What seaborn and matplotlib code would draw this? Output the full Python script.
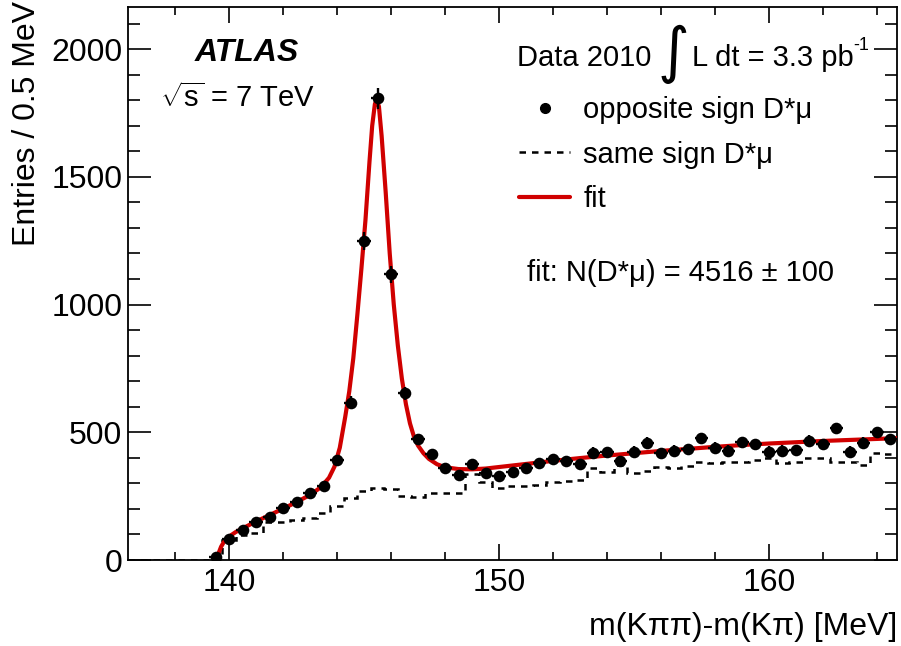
import numpy as np
import pandas as pd
import matplotlib
matplotlib.use("Agg")
import matplotlib.pyplot as plt
import seaborn as sns
from matplotlib.lines import Line2D

# ---------------- data ----------------
os_x = [139.5, 140.0, 140.5, 141.0, 141.5, 142.0, 142.5, 143.0, 143.5, 144.0,
        144.5, 145.0, 145.5, 146.0, 146.5, 147.0, 147.5, 148.0, 148.5, 149.0,
        149.5, 150.0, 150.5, 151.0, 151.5, 152.0, 152.5, 153.0, 153.5, 154.0,
        154.5, 155.0, 155.5, 156.0, 156.5, 157.0, 157.5, 158.0, 158.5, 159.0,
        159.5, 160.0, 160.5, 161.0, 161.5, 162.0, 162.5, 163.0, 163.5, 164.0,
        164.5]
os_y = [13, 81, 117, 147, 167, 203, 226, 263, 291, 391,
        616, 1250, 1807, 1119, 652, 472, 415, 359, 334, 374,
        340, 330, 346, 359, 378, 394, 389, 376, 420, 421,
        389, 424, 459, 417, 428, 434, 476, 440, 428, 461,
        454, 424, 428, 431, 466, 453, 515, 424, 459, 500,
        472]

ss_x = [136.5, 137.0, 137.5, 138.0, 138.5, 139.0, 139.5, 140.0, 140.5, 141.0,
        141.5, 142.0, 142.5, 143.0, 143.5, 144.0, 144.5, 145.0, 145.5, 146.0,
        146.5, 147.0, 147.5, 148.0, 148.5, 149.0, 149.5, 150.0, 150.5, 151.0,
        151.5, 152.0, 152.5, 153.0, 153.5, 154.0, 154.5, 155.0, 155.5, 156.0,
        156.5, 157.0, 157.5, 158.0, 158.5, 159.0, 159.5, 160.0, 160.5, 161.0,
        161.5, 162.0, 162.5, 163.0, 163.5, 164.0, 164.5]
ss_y = [0, 0, 0, 0, 0, 0, 8, 78, 98, 104,
        150, 150, 157, 163, 183, 211, 241, 271, 283, 278,
        250, 245, 261, 261, 261, 335, 307, 281, 290, 290,
        294, 307, 311, 313, 361, 346, 372, 342, 350, 365,
        361, 368, 385, 378, 382, 385, 391, 398, 378, 385,
        400, 400, 385, 385, 372, 418, 414]

fit_x = [139.57, 139.62, 139.7, 139.8, 140.0, 140.25, 140.5, 141.0, 141.5, 142.0,
         142.5, 143.0, 143.4, 143.7, 143.9, 144.1, 144.3, 144.45, 144.6, 144.75,
         144.9, 145.05, 145.2, 145.3, 145.4, 145.47, 145.55, 145.65, 145.8, 145.95,
         146.1, 146.25, 146.4, 146.55, 146.7, 146.85, 147.0, 147.2, 147.4, 147.7,
         148.0, 148.5, 149.0, 149.5, 150.0, 151.0, 152.0, 153.0, 154.0, 155.0,
         156.0, 157.0, 158.0, 159.0, 160.0, 161.0, 162.0, 163.0, 164.0, 164.75]
fit_y = [0, 30, 52, 70, 92, 110, 124, 151, 176, 201,
         227, 255, 285, 322, 365, 440, 560, 660, 790, 960,
         1140, 1330, 1560, 1700, 1785, 1805, 1775, 1660, 1440, 1200,
         1000, 840, 710, 610, 535, 482, 448, 418, 396, 375,
         363, 356, 355, 358, 364, 376, 388, 399, 409, 418,
         427, 435, 443, 450, 456, 461, 466, 470, 474, 477]

bin_width = 0.5
x_ticks = [140, 150, 160]
y_ticks = [0, 500, 1000, 1500, 2000]

# ---------------- style ----------------
sns.set_theme(style="ticks")
plt.rcParams["font.family"] = ["Liberation Sans", "DejaVu Sans"]
plt.rcParams["mathtext.fontset"] = "custom"
plt.rcParams["mathtext.rm"] = "Liberation Sans"
plt.rcParams["axes.linewidth"] = 1.3
plt.rcParams["text.color"] = "black"
plt.rcParams["axes.labelcolor"] = "black"
plt.rcParams["xtick.color"] = "black"
plt.rcParams["ytick.color"] = "black"

FS = 21
FS_AX = 23
RED = "#d00000"
DASH = (0, (2.6, 2.4))

fig = plt.figure(figsize=(9.01, 6.46), dpi=100)
W, H = 901, 646
ax = fig.add_axes([128 / W, 1 - 560 / H, 769 / W, 553 / H])

df_os = pd.DataFrame({"x": os_x, "y": os_y})
df_ss = pd.DataFrame({"x": ss_x, "y": ss_y})
df_fit = pd.DataFrame({"x": fit_x, "y": fit_y})

edges = np.concatenate([np.array(ss_x) - bin_width / 2, [ss_x[-1] + bin_width / 2]])

# same-sign histogram (dashed)
ax.stairs(df_ss["y"].to_numpy(), edges, color="black", linewidth=1.8,
          linestyle=DASH, baseline=None, zorder=2)

# fit
sns.lineplot(data=df_fit, x="x", y="y", color=RED, linewidth=3.0, ax=ax,
             sort=False, estimator=None, zorder=3)

# opposite sign data with error bars
ax.errorbar(df_os["x"], df_os["y"], yerr=np.sqrt(df_os["y"]), xerr=bin_width / 2,
            fmt="none", ecolor="black", elinewidth=1.7, capsize=0, zorder=4)
sns.scatterplot(data=df_os, x="x", y="y", color="black", s=70, edgecolor="black",
                linewidth=0, ax=ax, zorder=5)

ax.set_xlim(136.25, 164.75)
ax.set_ylim(0, 2165)
ax.set_xticks(x_ticks)
ax.set_yticks(y_ticks)
ax.set_xticks(np.arange(138, 165, 2), minor=True)
ax.set_yticks(np.arange(0, 2165, 100), minor=True)
ax.tick_params(axis="both", which="both", direction="in", top=True, right=True,
               labelsize=FS_AX, width=1.2, colors="black")
ax.tick_params(axis="x", which="major", length=11.5, pad=6)
ax.tick_params(axis="x", which="minor", length=6)
ax.tick_params(axis="y", which="major", length=16.5, pad=4)
ax.tick_params(axis="y", which="minor", length=8.3)
for s in ax.spines.values():
    s.set_color("black")

ax.set_xlabel("m(Kππ)-m(Kπ) [MeV]", fontsize=FS_AX, loc="right")
ax.xaxis.set_label_coords(1.0, -0.094)
ax.set_ylabel("Entries / 0.5 MeV", fontsize=FS_AX, loc="top")
ax.yaxis.set_label_coords(-0.112, 1.010)

# ATLAS label
ax.text(195 / W, 1 - 53 / H, "ATLAS", transform=fig.transFigure, fontsize=23,
        fontweight="bold", fontstyle="italic", ha="left", va="center")
ax.text(160 / W, 1 - 98 / H, r"$\sqrt{\mathrm{s}}$ = 7 TeV", transform=fig.transFigure,
        fontsize=FS, ha="left", va="center")

# Data / luminosity
fig.text(517 / W, 1 - 58 / H, "Data 2010", fontsize=FS, ha="left", va="center")
fig.text(673 / W, 1 - 54 / H, "∫", fontsize=44, ha="center", va="center",
         family="DejaVu Sans")
fig.text(692 / W, 1 - 58 / H, "L dt = 3.3 pb", fontsize=FS, ha="left", va="center")
fig.text(853 / W, 1 - 46 / H, "-1", fontsize=13, ha="left", va="center")

# legend
handles = [
    Line2D([], [], color="black", marker="o", linestyle="none", markersize=7),
    Line2D([], [], color="black", linestyle=DASH, linewidth=1.8),
    Line2D([], [], color=RED, linewidth=3.0),
]
labels = ["opposite sign D*μ", "same sign D*μ", "fit"]
ax.legend(handles, labels, loc="upper left", bbox_to_anchor=(519 / W, 1 - 96 / H),
          bbox_transform=fig.transFigure, frameon=False, fontsize=FS,
          handlelength=1.75, handletextpad=0.45, labelspacing=0.57,
          borderpad=0, borderaxespad=0)

fig.text(527 / W, 1 - 273 / H, "fit: N(D*μ) = 4516 ± 100", fontsize=FS,
         ha="left", va="center")

fig.savefig("out.png", dpi=100, facecolor="white")
